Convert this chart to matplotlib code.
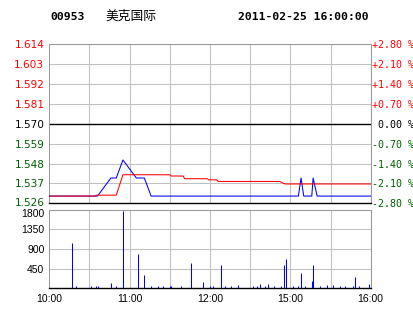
import matplotlib
matplotlib.use("Agg")
import matplotlib.pyplot as plt
import matplotlib.transforms as mtransforms

# stock header
code = "00953"
name = "美克国际"
stamp = "2011-02-25 16:00:00"
prev_close = 1.570

# price (blue) and average price (red), vertices
price_times = ["10:00", "10:36", "10:46", "10:50", "10:55", "11:05", "11:11", "11:16",
               "15:06", "15:08", "15:10", "15:16", "15:17", "15:20", "16:00"]
price_vals = [1.53, 1.53, 1.54, 1.54, 1.55, 1.54, 1.54, 1.53,
              1.53, 1.54, 1.53, 1.53, 1.54, 1.53, 1.53]

avg_times = ["10:00", "10:34", "10:35", "10:50", "10:55", "11:30", "11:31", "11:40",
             "11:41", "11:58", "11:59", "12:05", "12:06", "14:52", "14:56", "16:00"]
avg_vals = [1.5300, 1.5300, 1.5305, 1.5305, 1.5418, 1.5418, 1.5411, 1.5411,
            1.5396, 1.5396, 1.5390, 1.5390, 1.5381, 1.5381, 1.5367, 1.5367]

# volume per minute
vol_times = ["10:17", "10:20", "10:31", "10:35", "10:36", "10:46", "10:50", "10:55",
             "11:06", "11:11", "11:16", "11:21", "11:25", "11:30", "11:31", "11:38",
             "11:46", "11:55", "12:00", "12:02", "12:08", "12:11", "12:16", "12:21",
             "14:32", "14:35", "14:37", "14:41", "14:43", "14:48", "14:53", "14:55",
             "14:57", "15:02", "15:06", "15:08", "15:11", "15:16", "15:17", "15:22",
             "15:27", "15:32", "15:37", "15:41", "15:47", "15:48", "15:51", "15:59",
             "16:00"]
vol_vals = [1035, 46, 46, 46, 46, 115, 46, 1770,
            782, 299, 46, 46, 46, 46, 46, 46,
            575, 138, 46, 46, 529, 46, 46, 69,
            46, 46, 92, 46, 92, 46, 46, 529,
            667, 46, 46, 345, 46, 161, 529, 46,
            69, 69, 46, 46, 46, 253, 46, 92,
            46]

price_ticks = [1.614, 1.603, 1.592, 1.581, 1.570, 1.559, 1.548, 1.537, 1.526]
pct_labels = ["+2.80 %", "+2.10 %", "+1.40 %", "+0.70 %", " 0.00 %",
              "-0.70 %", "-1.40 %", "-2.10 %", "-2.80 %"]
vol_ticks = [450, 900, 1350, 1800]
time_ticks = ["10:00", "11:00", "12:00", "15:00", "16:00"]

RED = "#ff0000"
GREEN = "#005f00"
BLUE = "#0000ff"
GRID = "#c0c0c0"
LW = 0.75


def tmin(s):
    # trading minutes since 10:00 (lunch break 12:30-14:30 removed)
    h, m = map(int, s.split(":"))
    t = h * 60 + m
    return t - 600 if t <= 750 else t - 720


def tick_color(v):
    if abs(v - prev_close) < 1e-6:
        return "black"
    return RED if v > prev_close else GREEN


def nudge(lab, dy_px):
    lab.set_transform(lab.get_transform() +
                      mtransforms.ScaledTranslation(0, dy_px / 100, fig.dpi_scale_trans))


W, H = 414, 314
fig = plt.figure(figsize=(W / 100, H / 100), dpi=100)
fig.patch.set_facecolor("white")

L, R = 49.3, 370.7
ax = fig.add_axes([L / W, 1 - 203.3 / H, (R - L) / W, 159 / H])
axv = fig.add_axes([L / W, 1 - 288.3 / H, (R - L) / W, 78.6 / H])

grid_x = list(range(0, 241, 30))
lo, hi = price_ticks[-1], price_ticks[0]

for a in (ax, axv):
    a.set_xlim(0, 240)
    for x in grid_x:
        a.axvline(x, color=GRID, lw=LW, zorder=0)
    for s in ("left", "right", "top"):
        a.spines[s].set_color("#999999")
        a.spines[s].set_linewidth(LW)
    a.spines["bottom"].set_color("black")
    a.spines["bottom"].set_linewidth(1.0)
    a.tick_params(length=0)

# price panel
ax.set_ylim(lo, hi)
for v in price_ticks[:-1]:
    if abs(v - prev_close) < 1e-6:
        ax.axhline(v, color="black", lw=1.0, zorder=1)
    else:
        ax.axhline(v, color=GRID, lw=LW, zorder=0)

ax.plot([tmin(t) for t in price_times], price_vals, color=BLUE, lw=LW, zorder=3)
ax.plot([tmin(t) for t in avg_times], avg_vals, color=RED, lw=LW, zorder=4)

ax.set_xticks([])
ax.set_yticks(price_ticks)
ax.set_yticklabels([f"{v:.3f}" for v in price_ticks], fontsize=7.6,
                   family="DejaVu Sans")
for lab, v in zip(ax.get_yticklabels(), price_ticks):
    lab.set_color(tick_color(v))
ax.tick_params(axis="y", pad=3.5)
nudge(ax.get_yticklabels()[-1], 1)

ax2 = ax.twinx()
ax2.set_ylim(lo, hi)
ax2.set_yticks(price_ticks)
ax2.set_yticklabels(pct_labels, fontsize=7.2, family="DejaVu Sans Mono")
for lab, v in zip(ax2.get_yticklabels(), price_ticks):
    lab.set_color(tick_color(v))
ax2.tick_params(length=0, pad=0.6)
for s in ax2.spines.values():
    s.set_visible(False)

# volume panel
axv.set_ylim(0, 1800)
for v in vol_ticks:
    axv.axhline(v, color=GRID, lw=LW, zorder=0)
axv.vlines([tmin(t) for t in vol_times], 0, vol_vals, color=BLUE, lw=LW, zorder=3)
axv.set_yticks(vol_ticks)
axv.set_yticklabels([str(v) for v in vol_ticks], fontsize=7.5,
                    family="Liberation Sans")
axv.tick_params(axis="y", pad=3.5)
nudge(axv.get_yticklabels()[-1], -3)

axv.set_xticks(grid_x)
axv.set_xticklabels([t if t in time_ticks else "" for t in
                     [f"{(600 + m if m <= 150 else 720 + m) // 60}:{(m % 60):02d}"
                      for m in grid_x]],
                    fontsize=7.5, family="Liberation Sans")
axv.tick_params(axis="x", pad=4)

# header
hy = 1 - 16.5 / H
fig.text(50 / W, hy, code, fontsize=8.2, family="DejaVu Sans Mono",
         weight="bold", va="center")
fig.text(105 / W, hy, name, fontsize=9.2, family=["Noto Sans CJK SC", "DejaVu Sans"],
         va="center")
fig.text(238 / W, hy, stamp, fontsize=8.2, family="DejaVu Sans Mono",
         weight="bold", va="center")

fig.savefig("out.png", dpi=100)
